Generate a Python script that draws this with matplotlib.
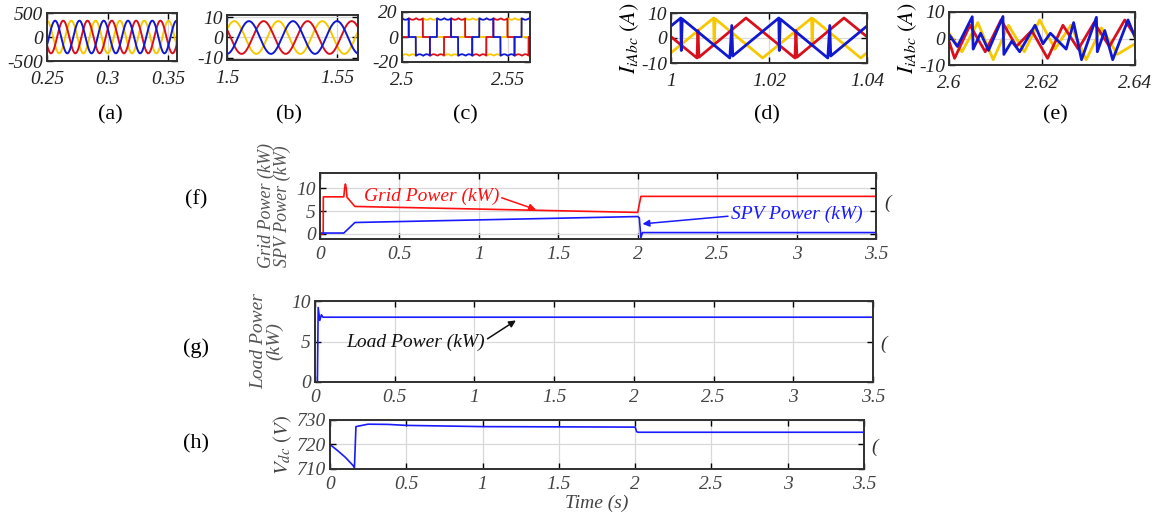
import numpy as np
import matplotlib.pyplot as plt

plt.rcParams['font.family'] = 'Liberation Serif'
plt.rcParams['mathtext.fontset'] = 'stix'

# ---- colours
RED = '#d8101c'
YEL = '#f7c800'
BLU = '#1018d0'

# ---- (a) grid voltage, 3 phase sine (read: amplitude, frequency, first yellow peak)
a_amp = 340
a_freq = 50
a_peak = 0.25
# ---- (b) grid current
b_amp = 8
b_freq = 50
b_peak = 1.5033
# ---- (c) six-step current
c_level = 15
c_period = 0.02
c_blue_rise = 2.4965

# ---- (d) inverter currents, keypoints
d_blue_t = [1.000, 1.002, 1.0021, 1.0023, 1.012, 1.0124, 1.0126, 1.022, 1.0221, 1.0223, 1.032, 1.0324, 1.0326, 1.040]
d_blue_v = [4.8, 8.0, -5.0, 7.6, -8.0, 5.0, -7.2, 8.0, -5.0, 7.6, -8.0, 5.0, -7.2, 4.8]
d_yel_t = [1.000, 1.0087, 1.0088, 1.0090, 1.0187, 1.0287, 1.0288, 1.0290, 1.0387, 1.040]
d_yel_v = [-5.9, 8.0, -3.0, 7.7, -8.0, 8.0, -3.0, 7.7, -8.0, -5.9]
d_red_t = [1.000, 1.0053, 1.0055, 1.0057, 1.0153, 1.0253, 1.0255, 1.0257, 1.0353, 1.040]
d_red_v = [0.5, -8.0, 3.0, -7.7, 8.0, -8.0, 3.0, -7.7, 8.0, 0.5]

# ---- (e)
e_blue_t = [2.600, 2.6018, 2.605, 2.6052, 2.6068, 2.6085, 2.6116, 2.6118, 2.6135, 2.6152, 2.6185,
            2.6202, 2.6218, 2.6252, 2.6268, 2.6285, 2.6317, 2.6319, 2.6335, 2.6352, 2.6385, 2.640]
e_blue_v = [1.5, -3, 8.2, -4, 2, -4.5, 8.3, -6, -1, -5, 5, -2, 2, -4, 6, -8, 8, -5, 3, -8, 7, 0.5]
e_red_t = [2.600, 2.6012, 2.6045, 2.6078, 2.6112, 2.6145, 2.6178, 2.6212, 2.6245, 2.6278, 2.6312, 2.6345, 2.6378, 2.640]
e_red_v = [-1, -7.5, 5, -5, 7, -3, 3, -7.5, 5, -4, 6, -3, 7, 1]
e_yel_t = [2.600, 2.6028, 2.6062, 2.6095, 2.6128, 2.6162, 2.6195, 2.6228, 2.6262, 2.6295, 2.6328, 2.6362, 2.640]
e_yel_v = [2, -5, 6, -8, 5, -5, 7, -4, 5, -8, 4, -6, -2]

# ---- (f) grid / SPV power (kW)
grid_t = [0, 0.02, 0.021, 0.15, 0.155, 0.16, 0.165, 0.17, 0.22, 2.0, 2.02, 3.5]
grid_v = [0, 0, 8.1, 8.1, 10.0, 10.9, 10.0, 8.0, 6.0, 4.7, 8.2, 8.2]
spv_t = [0, 0.15, 0.22, 2.0, 2.01, 2.02, 2.03, 3.5]
spv_v = [0.2, 0.2, 2.5, 3.8, 3.5, -0.8, 0.3, 0.3]
# ---- (g) load power
load_t = [0, 0.015, 0.02, 0.03, 0.04, 0.05, 3.5]
load_v = [0, 0, 9.2, 7.6, 8.3, 8.0, 8.0]
# ---- (h) dc link voltage
vdc_t = [0, 0.05, 0.1, 0.15, 0.16, 0.17, 0.25, 0.38, 0.5, 1.0, 2.0, 2.01, 2.02, 3.5]
vdc_v = [720, 717.5, 714.8, 711.5, 710.5, 727.3, 728.3, 728.2, 727.8, 727.3, 727.1, 725.2, 725.0, 725.0]

time_ticks = [0, 0.5, 1, 1.5, 2, 2.5, 3, 3.5]
time_labels = ['0', '0.5', '1', '1.5', '2', '2.5', '3', '3.5']

fig = plt.figure(figsize=(11.56, 5.19), dpi=100)
W, H = 1156.0, 519.0


def box(x0, y0, x1, y1):
    return fig.add_axes([x0 / W, 1 - y1 / H, (x1 - x0) / W, (y1 - y0) / H])


def style(ax, xlim, ylim, xt, xtl, yt, ytl, fs, col='#222222', xpad=3):
    ax.set_xlim(xlim)
    ax.set_ylim(ylim)
    ax.set_xticks(xt)
    ax.set_xticklabels(xtl, fontstyle='italic', fontsize=fs, color=col)
    ax.set_yticks(yt)
    ax.set_yticklabels(ytl, fontstyle='italic', fontsize=fs, color=col)
    ax.tick_params(direction='in', top=True, right=True, length=4, width=1, pad=3)
    ax.tick_params(axis='x', pad=xpad)
    ax.grid(True, color='#d8d8d8', lw=0.9)
    ax.set_axisbelow(True)
    for s in ax.spines.values():
        s.set_linewidth(1.4)
        s.set_color('#303030')


# (a)
ax = box(47, 13, 177, 61)
t = np.linspace(0.25, 0.357, 600)
ph = 2 * np.pi * a_freq * (t - a_peak)
ax.plot(t, a_amp * np.cos(ph), color=YEL, lw=1.4)
ax.plot(t, a_amp * np.cos(ph - 4 * np.pi / 3), color=RED, lw=1.4)
ax.plot(t, a_amp * np.cos(ph - 2 * np.pi / 3), color=BLU, lw=1.4)
style(ax, (0.25, 0.357), (-500, 500), [0.25, 0.3, 0.35], ['0.25', '0.3', '0.35'],
      [-500, 0, 500], ['-500', '0', '500'], 14, xpad=7)

# (b)
ax = box(227, 15, 358, 60)
t = np.linspace(1.5, 1.5595, 600)
ph = 2 * np.pi * b_freq * (t - b_peak)
ax.plot(t, b_amp * np.cos(ph), color=YEL, lw=1.4)
ax.plot(t, b_amp * np.cos(ph - 4 * np.pi / 3), color=RED, lw=1.4)
ax.plot(t, b_amp * np.cos(ph - 2 * np.pi / 3), color=BLU, lw=1.4)
style(ax, (1.5, 1.5595), (-11, 11), [1.5, 1.55], ['1.5', '1.55'],
      [-10, 0, 10], ['-10', '0', '10'], 14, xpad=7)

# (c)
ax = box(402, 12, 530, 62)
t = np.linspace(2.5, 2.5605, 3000)
for k, col in [(2, YEL), (1, RED), (0, BLU)]:
    ang = ((t - c_blue_rise - k * c_period / 3) / c_period * 360) % 360
    lev = np.where(ang < 120, 1, np.where(ang < 180, 0, np.where(ang < 300, -1, 0)))
    rip = 1.2 * np.abs(np.sin(2 * np.pi * 150 * t))
    ax.plot(t, lev * (c_level - rip), color=col, lw=1.3)
style(ax, (2.5, 2.5605), (-20, 20), [2.5, 2.55], ['2.5', '2.55'],
      [-20, 0, 20], ['-20', '0', '20'], 14, xpad=7)

# (d)
ax = box(671, 13, 867, 63)
ax.plot(d_yel_t, d_yel_v, color=YEL, lw=2.0)
ax.plot(d_red_t, d_red_v, color=RED, lw=2.0)
ax.plot(d_blue_t, d_blue_v, color=BLU, lw=2.0)
style(ax, (1.0, 1.04), (-10, 10), [1.0, 1.02, 1.04], ['1', '1.02', '1.04'],
      [-10, 0, 10], ['-10', '0', '10'], 14, xpad=7)
ax.set_ylabel(r'$I_{iAbc}\ (A)$', fontsize=16, labelpad=0)

# (e)
ax = box(949, 12, 1135, 65)
ax.plot(e_yel_t, e_yel_v, color=YEL, lw=2.0)
ax.plot(e_red_t, e_red_v, color=RED, lw=2.0)
ax.plot(e_blue_t, e_blue_v, color=BLU, lw=2.0)
style(ax, (2.6, 2.64), (-10, 10), [2.6, 2.62, 2.64], ['2.6', '2.62', '2.64'],
      [-10, 0, 10], ['-10', '0', '10'], 14, xpad=7)
ax.set_ylabel(r'$I_{iAbc}\ (A)$', fontsize=16, labelpad=0)

# (f)
ax = box(320, 173, 876, 239)
ax.plot(grid_t, grid_v, color='#ff1010', lw=1.2)
ax.plot(spv_t, spv_v, color='#1a1aff', lw=1.2)
style(ax, (0, 3.5), (-1.1, 13.3), time_ticks, time_labels, [0, 5, 10], ['0', '5', '10'], 14, '#444444', xpad=5)
ax.set_ylabel('Grid Power (kW)\nSPV Power (kW)', fontsize=13, fontstyle='italic',
              color='#555555', linespacing=0.85, labelpad=4)
ax.annotate('Grid Power (kW)', xy=(1.36, 5.3), xytext=(0.70, 8.1), color='#ff1010',
            fontsize=14, fontstyle='italic', ha='center', va='center',
            arrowprops=dict(arrowstyle='-|>', color='#ff1010', lw=1.1, shrinkA=0, shrinkB=0,
                            mutation_scale=10, relpos=(1.0, 0.5)))
ax.annotate('SPV Power (kW)', xy=(2.03, 2.2), xytext=(3.0, 4.3), color='#1a1aff',
            fontsize=14, fontstyle='italic', ha='center', va='center',
            arrowprops=dict(arrowstyle='-|>', color='#1a1aff', lw=1.1, shrinkA=0, shrinkB=0,
                            mutation_scale=10, relpos=(0.0, 0.4)))

# (g)
ax = box(315, 301, 873, 382)
ax.plot(load_t, load_v, color='#1a1aff', lw=1.2)
style(ax, (0, 3.5), (0, 10), time_ticks, time_labels, [0, 5, 10], ['0', '5', '10'], 14, '#444444', xpad=5)
ax.set_ylabel('Load Power\n(kW)', fontsize=14, fontstyle='italic', color='#555555',
              linespacing=0.85, labelpad=6)
ax.annotate('Load Power (kW)', xy=(1.26, 7.6), xytext=(0.63, 4.9), color='#111111',
            fontsize=14, fontstyle='italic', ha='center', va='center',
            arrowprops=dict(arrowstyle='-|>', color='#111111', lw=1.1, shrinkA=0, shrinkB=0,
                            mutation_scale=10, relpos=(1.0, 0.6)))

# (h)
ax = box(330, 420, 864, 469)
ax.plot(vdc_t, vdc_v, color='#1a1aff', lw=1.2)
style(ax, (0, 3.5), (710, 730), time_ticks, time_labels, [710, 720, 730], ['710', '720', '730'], 14, '#444444', xpad=5)
ax.set_ylabel(r'$V_{dc}\ (V)$', fontsize=15, color='#444444', labelpad=2)
ax.set_xlabel('Time (s)', fontsize=14, fontstyle='italic', color='#444444', labelpad=1)

# captions
for lab, x, y in [('(a)', 110, 115), ('(b)', 289, 115), ('(c)', 465, 115), ('(d)', 767, 115),
                  ('(e)', 1055, 115), ('(f)', 196, 200), ('(g)', 196, 348), ('(h)', 196, 444)]:
    fig.text(x / W, 1 - y / H, lab, fontsize=16, ha='center', va='center')
for x, y in [(888, 203), (884, 344), (875, 447)]:
    fig.text(x / W, 1 - y / H, '(', fontsize=14, fontstyle='italic', color='#333333',
             ha='center', va='center')

fig.savefig('out.png', dpi=100)
